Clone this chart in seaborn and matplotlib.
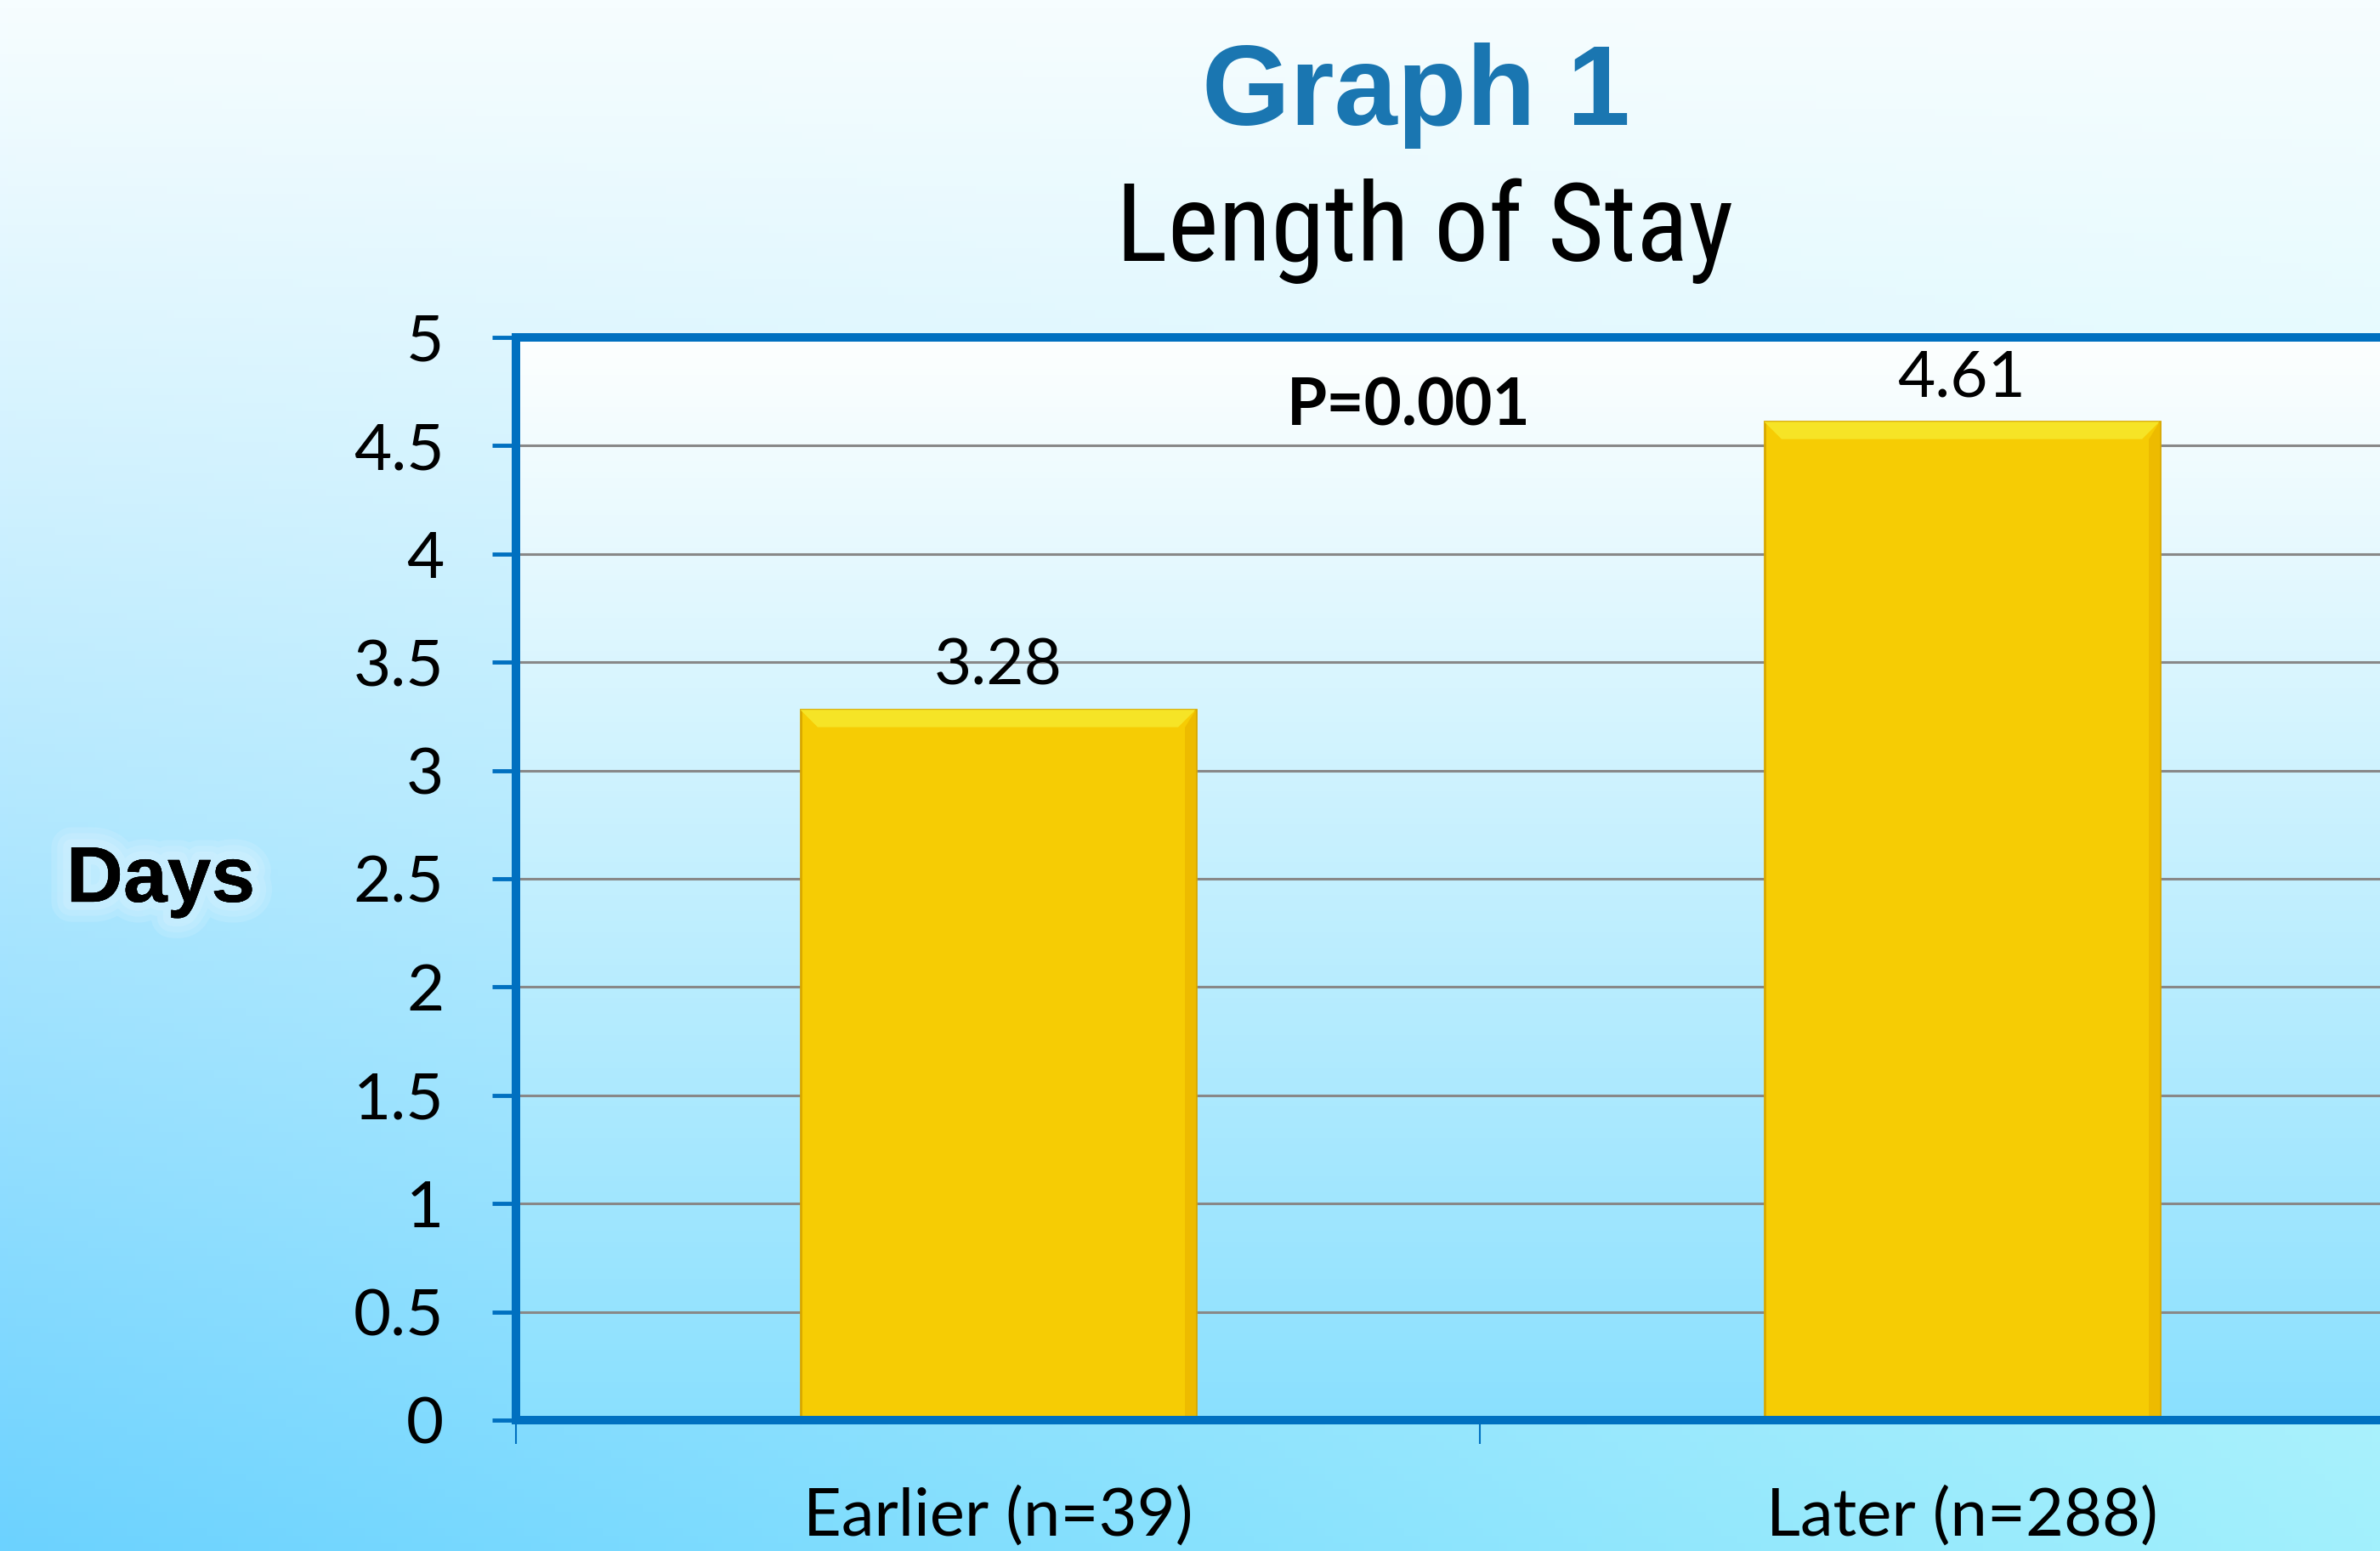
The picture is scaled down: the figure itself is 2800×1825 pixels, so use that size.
import numpy as np
import pandas as pd
import matplotlib
matplotlib.use("Agg")
import matplotlib.pyplot as plt
import matplotlib.patheffects as pe
from matplotlib.patches import Polygon
import seaborn as sns

# dados do gráfico
grupos = ["Earlier (n=39)", "Later (n=288)"]
dias = [3.28, 4.61]
rotulos_valor = ["3.28", "4.61"]
yticks = [0, 0.5, 1, 1.5, 2, 2.5, 3, 3.5, 4, 4.5, 5]
ytick_labels = ["0", "0.5", "1", "1.5", "2", "2.5", "3", "3.5", "4", "4.5", "5"]
titulo = "Graph 1"
subtitulo = "Length of Stay"
texto_p = "P=0.001"
rotulo_y = "Days"

df = pd.DataFrame({"grupo": grupos, "dias": dias})

sns.set_style("white")
plt.rcParams["font.family"] = ["Lato", "DejaVu Sans"]
plt.rcParams["text.color"] = "black"
plt.rcParams["xtick.color"] = "black"
plt.rcParams["ytick.color"] = "black"

AZUL = "#0070C0"
AMARELO = "#F6CC04"

fig = plt.figure(figsize=(28, 18.25), dpi=100)

# fundo em degradê da figura
bg = fig.add_axes([0, 0, 1, 1], zorder=-10)
ny, nx = 200, 300
t = np.linspace(0, 1, ny)[:, None, None] ** 1.1
s = np.linspace(0, 1, nx)[None, :, None]
topo = np.array([246, 253, 255]) / 255
base_esq = np.array([108, 210, 255]) / 255
base_dir = np.array([162, 240, 252]) / 255
base = base_esq * (1 - s) + base_dir * s
img = topo * (1 - t) + base * t
bg.imshow(img, aspect="auto", extent=[0, 1, 0, 1], origin="upper")
bg.axis("off")

ax = fig.add_axes([0.2168, 0.0844, 0.81, 0.6981], zorder=1)
ax.patch.set_alpha(0)

# degradê da área de plotagem
ty = np.linspace(0, 1, 200)[:, None, None]
c_top = np.array([253, 255, 255]) / 255
c_bot = np.array([138, 224, 254]) / 255
area = c_top * (1 - ty) + c_bot * ty
area = np.repeat(area, 2, axis=1)
ax.imshow(area, aspect="auto", extent=[0, 1, 0, 1], origin="upper",
          transform=ax.transAxes, zorder=-2)

sns.barplot(data=df, x="grupo", y="dias", color=AMARELO, width=0.41,
            saturation=1, edgecolor="#D8A800", linewidth=2, ax=ax, zorder=2)

# chanfro simples nas barras
for p in ax.patches:
    x0, w, h = p.get_x(), p.get_width(), p.get_height()
    dx, dy = 0.018, 0.08
    ax.add_patch(Polygon([(x0, h), (x0 + w, h), (x0 + w - dx, h - dy), (x0 + dx, h - dy)],
                         closed=True, facecolor="#F6E426", edgecolor="none", zorder=2.1))
    ax.add_patch(Polygon([(x0 + w, h), (x0 + w, 0), (x0 + w - dx * 0.6, 0), (x0 + w - dx * 0.6, h - dy)],
                         closed=True, facecolor="#EDBB00", edgecolor="none", zorder=2.1))

ax.bar_label(ax.containers[0], labels=rotulos_valor, padding=12, fontsize=55, color="black")

ax.set_xlim(-0.5, 1.5)
ax.set_ylim(0, 5)
ax.set_yticks(yticks)
ax.set_yticklabels(ytick_labels)
ax.set_xlabel("")
ax.set_ylabel("")

ax.yaxis.grid(True, color="#888888", linewidth=2.2)
ax.xaxis.grid(False)
ax.set_axisbelow(True)

for lado in ["left", "top", "bottom"]:
    ax.spines[lado].set_visible(True)
    ax.spines[lado].set_color(AZUL)
    ax.spines[lado].set_linewidth(7.2)
    ax.spines[lado].set_zorder(2.5)
ax.spines["right"].set_visible(False)

ax.tick_params(axis="y", direction="out", length=20, width=3.5, color=AZUL,
               pad=41, labelsize=55, left=True, labelcolor="black")
ax.tick_params(axis="x", which="major", length=0, pad=56, labelsize=56, labelcolor="black")
ax.set_xticks([-0.5, 0.5, 1.5], minor=True)
ax.tick_params(axis="x", which="minor", direction="out", length=20, width=1.5,
               color=AZUL, bottom=True)

fig.text(0.595, 0.9195, titulo, ha="center", va="baseline", fontsize=96,
         fontweight="bold", color="#1A76B1", family=["Liberation Sans", "DejaVu Sans"])
fig.text(0.5985, 0.8318, subtitulo, ha="center", va="baseline", fontsize=92,
         color="black", family=["Roboto Condensed", "DejaVu Sans"], fontstretch="condensed")
fig.text(0.592, 0.726, texto_p, ha="center", va="baseline", fontsize=55,
         fontweight="bold", color="black")
brilho = [pe.withStroke(linewidth=lw, foreground="white", alpha=0.12) for lw in (34, 24, 14)]
fig.text(0.0675, 0.4186, rotulo_y, ha="center", va="baseline", fontsize=67,
         fontweight="bold", color="black", family=["Liberation Sans", "DejaVu Sans"],
         path_effects=brilho + [pe.Normal()])

fig.savefig("out.png", dpi=100)
